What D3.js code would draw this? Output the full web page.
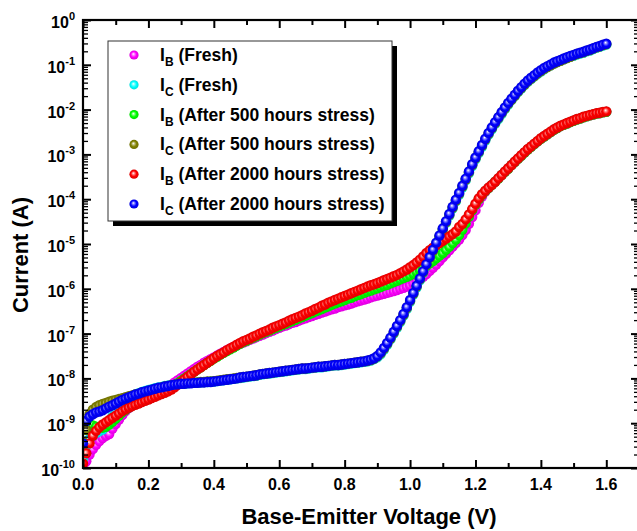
<!DOCTYPE html>
<html><head><meta charset="utf-8">
<script src="https://cdn.jsdelivr.net/npm/d3@7"></script>
<style>
body{margin:0;background:#fff}
text{font-family:"Liberation Sans",Arial,Helvetica,sans-serif;font-weight:bold;fill:#000}
</style>
</head><body>
<svg id="chart" width="637" height="531"></svg>
<script>
// Base-emitter voltage grid (V)
const voltage = d3.range(161).map(i => Math.round(i) / 100);

// log10 of current (A), one value per voltage step
const ibFresh = [
-9.95,-9.85,-9.70,-9.58,-9.48,-9.40,-9.33,-9.28,-9.24,-9.12,
-9.02,-8.92,-8.82,-8.73,-8.66,-8.60,-8.55,-8.50,-8.46,-8.42,
-8.38,-8.35,-8.32,-8.29,-8.26,-8.22,-8.18,-8.14,-8.09,-8.04,
-7.99,-7.94,-7.89,-7.84,-7.79,-7.74,-7.70,-7.65,-7.61,-7.57,
-7.53,-7.49,-7.45,-7.41,-7.37,-7.33,-7.30,-7.26,-7.23,-7.20,
-7.17,-7.14,-7.11,-7.08,-7.05,-7.02,-6.99,-6.96,-6.93,-6.90,
-6.87,-6.84,-6.82,-6.79,-6.76,-6.74,-6.71,-6.68,-6.66,-6.63,
-6.61,-6.58,-6.56,-6.53,-6.51,-6.48,-6.46,-6.44,-6.41,-6.39,
-6.37,-6.35,-6.33,-6.30,-6.28,-6.26,-6.24,-6.22,-6.19,-6.17,
-6.15,-6.13,-6.11,-6.09,-6.07,-6.05,-6.03,-6.00,-5.98,-5.95,
-5.92,-5.88,-5.84,-5.79,-5.73,-5.67,-5.60,-5.53,-5.46,-5.38,
-5.30,-5.22,-5.14,-5.06,-4.98,-4.90,-4.80,-4.69,-4.55,-4.40,
-4.25,-4.08,-3.94,-3.83,-3.75,-3.68,-3.61,-3.54,-3.46,-3.39,
-3.32,-3.24,-3.17,-3.10,-3.03,-2.96,-2.89,-2.83,-2.77,-2.71,
-2.65,-2.60,-2.55,-2.50,-2.45,-2.41,-2.37,-2.34,-2.31,-2.28,
-2.25,-2.22,-2.20,-2.17,-2.15,-2.13,-2.11,-2.09,-2.08,-2.06,
-2.05];

const icFresh = [
-9.80,-9.50,-9.35,-9.28,-9.22,-9.18,-9.14,-9.05,-8.95,-8.85,
-8.75,-8.66,-8.58,-8.51,-8.45,-8.40,-8.36,-8.33,-8.30,-8.28,
-8.26,-8.24,-8.22,-8.20,-8.19,-8.17,-8.16,-8.15,-8.14,-8.13,
-8.12,-8.11,-8.11,-8.10,-8.10,-8.09,-8.09,-8.08,-8.08,-8.07,
-8.07,-8.06,-8.05,-8.04,-8.03,-8.02,-8.01,-8.00,-7.99,-7.98,
-7.97,-7.96,-7.95,-7.94,-7.92,-7.91,-7.90,-7.89,-7.88,-7.87,
-7.86,-7.85,-7.84,-7.83,-7.82,-7.81,-7.80,-7.79,-7.79,-7.78,
-7.77,-7.76,-7.75,-7.75,-7.74,-7.73,-7.72,-7.71,-7.71,-7.70,
-7.69,-7.68,-7.67,-7.66,-7.65,-7.64,-7.63,-7.62,-7.60,-7.57,
-7.53,-7.46,-7.36,-7.25,-7.13,-7.00,-6.87,-6.74,-6.60,-6.45,
-6.29,-6.13,-5.97,-5.81,-5.65,-5.49,-5.33,-5.17,-5.01,-4.85,
-4.69,-4.53,-4.37,-4.21,-4.05,-3.90,-3.74,-3.58,-3.42,-3.26,
-3.11,-2.97,-2.83,-2.69,-2.56,-2.44,-2.32,-2.21,-2.10,-1.99,
-1.89,-1.79,-1.70,-1.61,-1.53,-1.45,-1.38,-1.32,-1.26,-1.20,
-1.15,-1.10,-1.05,-1.01,-0.97,-0.94,-0.91,-0.88,-0.85,-0.82,
-0.80,-0.77,-0.75,-0.73,-0.70,-0.68,-0.65,-0.62,-0.60,-0.57,
-0.55];

const ib500 = [
-9.50,-9.15,-9.02,-9.05,-9.08,-9.10,-9.10,-9.08,-9.03,-8.97,
-8.90,-8.83,-8.76,-8.70,-8.65,-8.60,-8.56,-8.52,-8.48,-8.44,
-8.41,-8.38,-8.35,-8.32,-8.29,-8.26,-8.23,-8.19,-8.15,-8.10,
-8.05,-8.00,-7.95,-7.90,-7.85,-7.80,-7.75,-7.70,-7.65,-7.61,
-7.56,-7.52,-7.47,-7.43,-7.39,-7.35,-7.31,-7.27,-7.23,-7.19,
-7.16,-7.12,-7.09,-7.06,-7.02,-6.99,-6.96,-6.93,-6.90,-6.87,
-6.84,-6.81,-6.78,-6.75,-6.72,-6.69,-6.66,-6.63,-6.60,-6.57,
-6.54,-6.51,-6.48,-6.45,-6.42,-6.39,-6.36,-6.33,-6.30,-6.28,
-6.25,-6.22,-6.20,-6.17,-6.14,-6.12,-6.09,-6.06,-6.04,-6.01,
-5.99,-5.96,-5.93,-5.91,-5.88,-5.85,-5.82,-5.79,-5.76,-5.73,
-5.70,-5.66,-5.62,-5.58,-5.53,-5.48,-5.43,-5.38,-5.32,-5.26,
-5.20,-5.13,-5.06,-4.98,-4.90,-4.80,-4.68,-4.54,-4.39,-4.25,
-4.12,-4.00,-3.90,-3.82,-3.75,-3.68,-3.61,-3.54,-3.46,-3.39,
-3.32,-3.24,-3.17,-3.10,-3.03,-2.96,-2.89,-2.83,-2.77,-2.71,
-2.65,-2.60,-2.55,-2.50,-2.45,-2.41,-2.37,-2.34,-2.31,-2.28,
-2.25,-2.22,-2.20,-2.17,-2.15,-2.13,-2.11,-2.09,-2.08,-2.06,
-2.05];

const ic500 = [
-9.42,-9.15,-8.80,-8.70,-8.64,-8.60,-8.57,-8.55,-8.52,-8.50,
-8.48,-8.46,-8.44,-8.42,-8.40,-8.38,-8.36,-8.34,-8.32,-8.30,
-8.28,-8.26,-8.24,-8.22,-8.20,-8.18,-8.17,-8.15,-8.14,-8.13,
-8.12,-8.11,-8.10,-8.10,-8.09,-8.09,-8.08,-8.08,-8.07,-8.07,
-8.06,-8.05,-8.04,-8.03,-8.02,-8.01,-8.00,-7.99,-7.98,-7.97,
-7.96,-7.95,-7.94,-7.93,-7.91,-7.90,-7.89,-7.88,-7.87,-7.86,
-7.85,-7.84,-7.83,-7.82,-7.81,-7.80,-7.79,-7.78,-7.78,-7.77,
-7.76,-7.75,-7.74,-7.74,-7.73,-7.72,-7.71,-7.70,-7.70,-7.69,
-7.68,-7.67,-7.66,-7.65,-7.64,-7.63,-7.62,-7.61,-7.59,-7.56,
-7.51,-7.44,-7.34,-7.23,-7.11,-6.98,-6.85,-6.72,-6.58,-6.43,
-6.27,-6.11,-5.95,-5.79,-5.63,-5.47,-5.31,-5.15,-4.99,-4.83,
-4.67,-4.51,-4.35,-4.19,-4.03,-3.88,-3.72,-3.56,-3.40,-3.24,
-3.09,-2.95,-2.81,-2.67,-2.54,-2.42,-2.30,-2.19,-2.08,-1.97,
-1.87,-1.78,-1.69,-1.60,-1.52,-1.44,-1.37,-1.31,-1.25,-1.19,
-1.14,-1.09,-1.05,-1.01,-0.97,-0.94,-0.91,-0.88,-0.85,-0.82,
-0.79,-0.76,-0.74,-0.72,-0.69,-0.67,-0.64,-0.61,-0.59,-0.56,
-0.54];

const ib2000 = [
-9.90,-9.67,-9.45,-9.28,-9.17,-9.09,-9.03,-8.98,-8.93,-8.88,
-8.83,-8.78,-8.73,-8.69,-8.65,-8.62,-8.59,-8.56,-8.53,-8.50,
-8.47,-8.44,-8.41,-8.38,-8.35,-8.32,-8.29,-8.25,-8.20,-8.14,
-8.08,-8.02,-7.96,-7.91,-7.85,-7.80,-7.75,-7.70,-7.65,-7.60,
-7.55,-7.50,-7.46,-7.42,-7.37,-7.33,-7.29,-7.25,-7.21,-7.17,
-7.14,-7.11,-7.07,-7.04,-7.00,-6.97,-6.94,-6.91,-6.87,-6.84,
-6.81,-6.78,-6.75,-6.71,-6.68,-6.65,-6.62,-6.59,-6.55,-6.52,
-6.49,-6.45,-6.42,-6.38,-6.35,-6.31,-6.28,-6.25,-6.22,-6.19,
-6.16,-6.13,-6.10,-6.07,-6.04,-6.01,-5.98,-5.95,-5.92,-5.90,
-5.87,-5.84,-5.81,-5.78,-5.75,-5.72,-5.69,-5.65,-5.61,-5.57,
-5.52,-5.47,-5.41,-5.35,-5.28,-5.20,-5.14,-5.08,-5.03,-4.98,
-4.93,-4.88,-4.83,-4.78,-4.72,-4.62,-4.55,-4.45,-4.34,-4.22,
-4.10,-3.98,-3.89,-3.81,-3.74,-3.68,-3.61,-3.53,-3.46,-3.38,
-3.31,-3.24,-3.16,-3.09,-3.02,-2.95,-2.88,-2.82,-2.76,-2.70,
-2.64,-2.59,-2.54,-2.49,-2.44,-2.40,-2.36,-2.33,-2.30,-2.27,
-2.24,-2.21,-2.19,-2.16,-2.14,-2.12,-2.10,-2.08,-2.07,-2.05,
-2.04];

const ic2000 = [
-9.45,-8.95,-8.85,-8.80,-8.76,-8.74,-8.71,-8.67,-8.63,-8.60,
-8.56,-8.52,-8.48,-8.45,-8.42,-8.39,-8.36,-8.34,-8.31,-8.29,
-8.27,-8.25,-8.23,-8.21,-8.20,-8.18,-8.17,-8.15,-8.14,-8.13,
-8.12,-8.12,-8.11,-8.11,-8.10,-8.10,-8.09,-8.09,-8.08,-8.08,
-8.07,-8.06,-8.05,-8.04,-8.03,-8.02,-8.01,-8.00,-7.98,-7.97,
-7.96,-7.95,-7.94,-7.93,-7.91,-7.90,-7.89,-7.88,-7.87,-7.86,
-7.85,-7.84,-7.83,-7.82,-7.81,-7.80,-7.79,-7.78,-7.78,-7.77,
-7.76,-7.75,-7.74,-7.74,-7.73,-7.72,-7.71,-7.70,-7.70,-7.69,
-7.68,-7.67,-7.66,-7.65,-7.64,-7.63,-7.62,-7.60,-7.58,-7.55,
-7.50,-7.42,-7.32,-7.21,-7.09,-6.96,-6.83,-6.70,-6.56,-6.41,
-6.25,-6.09,-5.93,-5.77,-5.61,-5.45,-5.29,-5.13,-4.97,-4.81,
-4.65,-4.49,-4.33,-4.17,-4.01,-3.86,-3.70,-3.54,-3.38,-3.22,
-3.07,-2.93,-2.79,-2.65,-2.52,-2.40,-2.28,-2.17,-2.06,-1.95,
-1.85,-1.76,-1.67,-1.58,-1.50,-1.42,-1.35,-1.29,-1.23,-1.17,
-1.12,-1.07,-1.03,-0.99,-0.95,-0.92,-0.89,-0.86,-0.83,-0.80,
-0.78,-0.75,-0.73,-0.71,-0.68,-0.66,-0.63,-0.60,-0.58,-0.55,
-0.53];

const seriesMain = ["I","I","I","I","I","I"];
const seriesSub = ["B","C","B","C","B","C"];
const seriesRest = [" (Fresh)"," (Fresh)"," (After 500 hours stress)"," (After 500 hours stress)"," (After 2000 hours stress)"," (After 2000 hours stress)"];
const seriesColors = ["#ff00ff","#00ffff","#00ff00","#808000","#ff0000","#0000ff"];
const seriesValues = [ibFresh, icFresh, ib500, ic500, ib2000, ic2000];

const xMajorTicks = [0.0,0.2,0.4,0.6,0.8,1.0,1.2,1.4,1.6];
const xMinorTicks = [0.1,0.3,0.5,0.7,0.9,1.1,1.3,1.5,1.7];
const yDecades = [0,-1,-2,-3,-4,-5,-6,-7,-8,-9,-10];

const xTitle = "Base-Emitter Voltage (V)";
const yTitle = "Current (A)";

// ---------- layout ----------
const L = 83, R = 639, T = 20, B = 468;
const svg = d3.select("#chart");
const x = d3.scaleLinear().domain([0, 1.7]).range([L, R]);
const y = d3.scaleLog().domain([1e-10, 1]).range([B, T]);

const defs = svg.append("defs");
seriesColors.forEach((c, i) => {
  const g = defs.append("radialGradient").attr("id", "ball" + i)
    .attr("cx", "50%").attr("cy", "50%").attr("r", "50%")
    .attr("fx", "42%").attr("fy", "38%");
  g.append("stop").attr("offset", "0%").attr("stop-color", "#ffffff");
  g.append("stop").attr("offset", "30%").attr("stop-color", d3.interpolateRgb("#ffffff", c)(0.55));
  g.append("stop").attr("offset", "60%").attr("stop-color", c);
  g.append("stop").attr("offset", "100%").attr("stop-color", d3.color(c).darker(0.4));
});
defs.append("clipPath").attr("id", "plotclip").append("rect")
  .attr("x", L).attr("y", T).attr("width", R - L).attr("height", B - T);

// ---------- data points ----------
const pts = svg.append("g").attr("clip-path", "url(#plotclip)");
seriesValues.forEach((vals, si) => {
  pts.append("g").selectAll("circle")
    .data(vals.map((v, k) => ({ v: voltage[k], i: Math.pow(10, v) })))
    .join("circle")
    .attr("cx", d => x(d.v)).attr("cy", d => y(d.i)).attr("r", 5.2)
    .attr("fill", `url(#ball${si})`);
});

// ---------- axes ----------
const yMinor = [];
yDecades.forEach(e => { if (e < 0) for (let m = 2; m <= 9; m++) yMinor.push(m * Math.pow(10, e)); });
const yMajor = yDecades.map(e => Math.pow(10, e));

function styleAxis(g) {
  g.select(".domain").remove();
  g.selectAll(".tick line").attr("stroke", "#000").attr("stroke-width", 2);
  g.selectAll(".tick text").remove();
}
svg.append("g").attr("transform", `translate(0,${B})`)
  .call(d3.axisBottom(x).tickValues(xMajorTicks).tickSize(-8)).call(styleAxis);
svg.append("g").attr("transform", `translate(0,${B})`)
  .call(d3.axisBottom(x).tickValues(xMinorTicks).tickSize(-5)).call(styleAxis);
svg.append("g").attr("transform", `translate(0,${T})`)
  .call(d3.axisTop(x).tickValues(xMajorTicks).tickSize(-8)).call(styleAxis);
svg.append("g").attr("transform", `translate(0,${T})`)
  .call(d3.axisTop(x).tickValues(xMinorTicks).tickSize(-5)).call(styleAxis);
svg.append("g").attr("transform", `translate(${L},0)`)
  .call(d3.axisLeft(y).tickValues(yMajor).tickSize(-8)).call(styleAxis);
svg.append("g").attr("transform", `translate(${L},0)`)
  .call(d3.axisLeft(y).tickValues(yMinor).tickSize(-5)).call(s => { styleAxis(s); s.selectAll(".tick line").attr("stroke-width", 1.3); });
svg.append("g").attr("transform", `translate(${R},0)`)
  .call(d3.axisRight(y).tickValues(yMajor).tickSize(-8)).call(styleAxis);
svg.append("g").attr("transform", `translate(${R},0)`)
  .call(d3.axisRight(y).tickValues(yMinor).tickSize(-5)).call(s => { styleAxis(s); s.selectAll(".tick line").attr("stroke-width", 1.3); });

svg.append("rect").attr("x", L).attr("y", T).attr("width", R - L).attr("height", B - T)
  .attr("fill", "none").attr("stroke", "#000").attr("stroke-width", 2.2);

// tick labels
svg.append("g").selectAll("text").data(xMajorTicks).join("text")
  .attr("x", d => x(d)).attr("y", B + 22).attr("text-anchor", "middle")
  .attr("font-size", 16).text(d => d.toFixed(1));

const yl = svg.append("g").selectAll("text").data(yDecades).join("text")
  .attr("x", 75).attr("y", d => y(Math.pow(10, d)) + 8).attr("text-anchor", "end")
  .attr("font-size", 16);
yl.append("tspan").text("10");
yl.append("tspan").attr("dy", -8).attr("font-size", 11).text(d => String(d));

// axis titles
svg.append("text").attr("x", 369).attr("y", 524).attr("text-anchor", "middle")
  .attr("font-size", 22).text(xTitle);
svg.append("text").attr("transform", `translate(28,255) rotate(-90)`)
  .attr("text-anchor", "middle").attr("font-size", 22).text(yTitle);

// ---------- legend ----------
const lg = svg.append("g");
const lx = 108, ly = 41, lw = 284, lh = 180;
lg.append("rect").attr("x", lx + 5).attr("y", ly + 5).attr("width", lw).attr("height", lh).attr("fill", "#000");
lg.append("rect").attr("x", lx).attr("y", ly).attr("width", lw).attr("height", lh)
  .attr("fill", "#fff").attr("stroke", "#333").attr("stroke-width", 1);
seriesMain.forEach((m, i) => {
  const cy = 55 + i * 29.8;
  lg.append("circle").attr("cx", 134).attr("cy", cy).attr("r", 4.6).attr("fill", `url(#ball${i})`);
  const t = lg.append("text").attr("x", 160).attr("y", cy + 6).attr("font-size", 17.5);
  t.append("tspan").text(m);
  t.append("tspan").attr("dy", 5).attr("font-size", 12).text(seriesSub[i]);
  t.append("tspan").attr("dy", -5).text(seriesRest[i]);
});
</script>
</body></html>
